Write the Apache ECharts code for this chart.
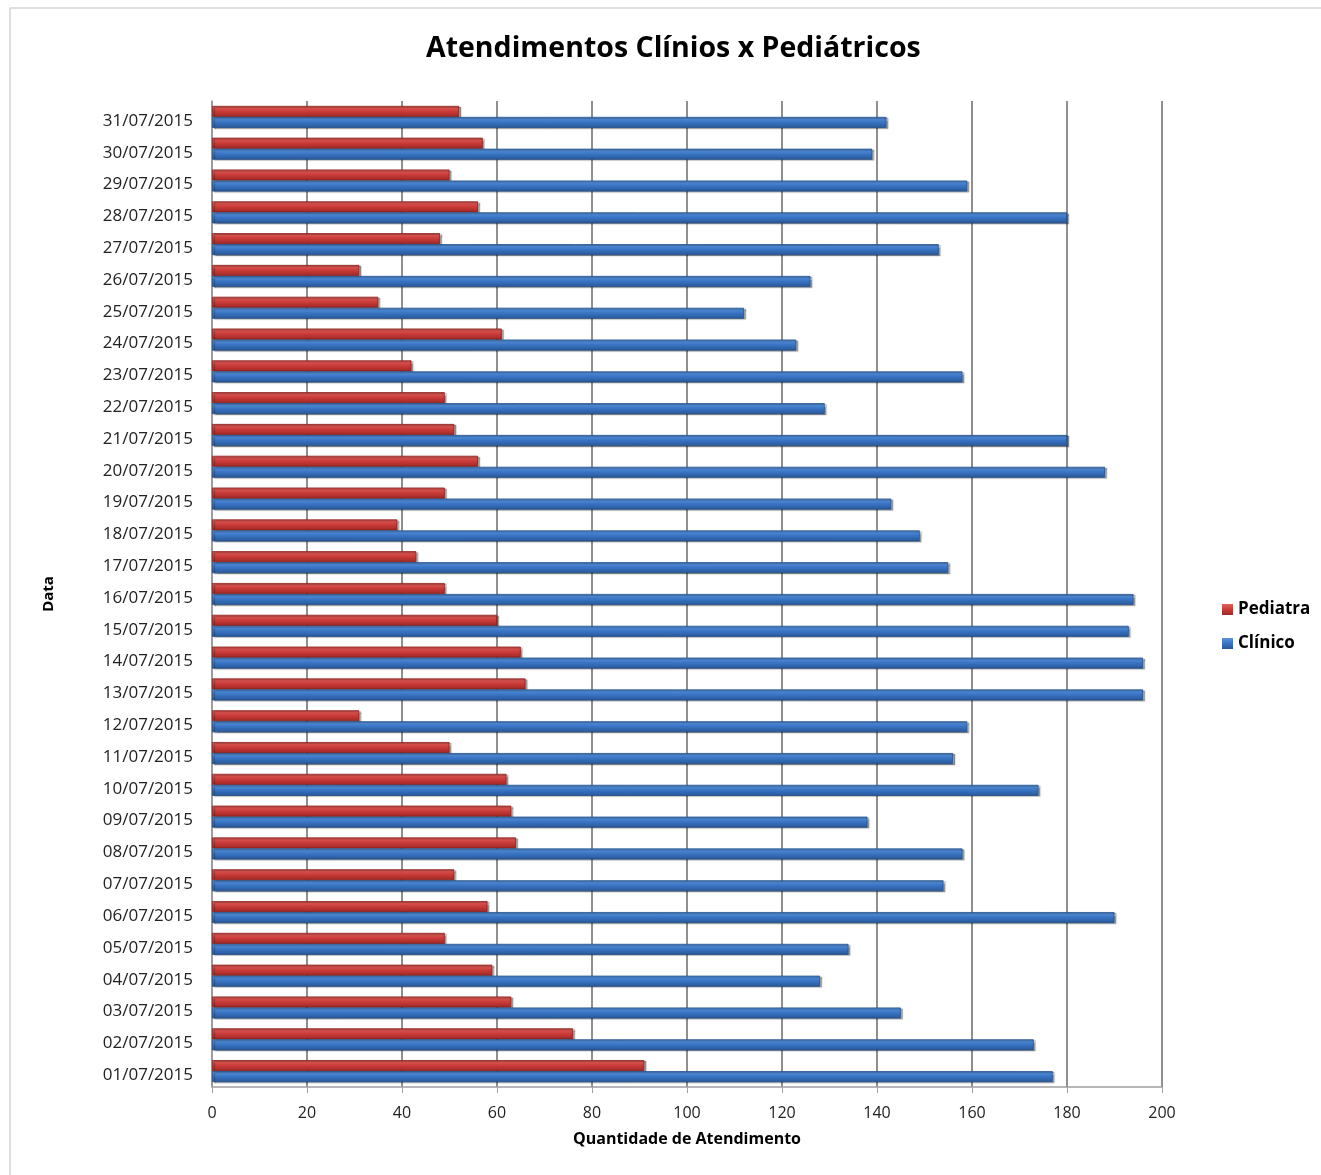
<!DOCTYPE html>
<html>
<head>
<meta charset="utf-8">
<script src="https://cdn.jsdelivr.net/npm/echarts@6/dist/echarts.min.js"></script>
<style>
html,body{margin:0;padding:0;background:#fff;}
#chart{width:1321px;height:1175px;}
</style>
</head>
<body>
<div id="chart"></div>
<script>
// Categories (bottom to top)
const dates = [
  "01/07/2015","02/07/2015","03/07/2015","04/07/2015","05/07/2015","06/07/2015","07/07/2015","08/07/2015",
  "09/07/2015","10/07/2015","11/07/2015","12/07/2015","13/07/2015","14/07/2015","15/07/2015","16/07/2015",
  "17/07/2015","18/07/2015","19/07/2015","20/07/2015","21/07/2015","22/07/2015","23/07/2015","24/07/2015",
  "25/07/2015","26/07/2015","27/07/2015","28/07/2015","29/07/2015","30/07/2015","31/07/2015"
];
const pediatra = [91,76,63,59,49,58,51,64,63,62,50,31,66,65,60,49,43,39,49,56,51,49,42,61,35,31,48,56,50,57,52];
const clinico  = [177,173,145,128,134,190,154,158,138,174,156,159,196,196,193,194,155,149,143,188,180,129,158,123,112,126,153,180,159,139,142];
const xTicks = [0,20,40,60,80,100,120,140,160,180,200];

const FONT = '"Open Sans", "Noto Sans", sans-serif';
const chart = echarts.init(document.getElementById('chart'), null, {renderer:'canvas'});

const redGrad = new echarts.graphic.LinearGradient(0,0,0,1,[
  {offset:0,color:'#e0605c'},{offset:0.5,color:'#c93b38'},{offset:1,color:'#9e2724'}]);
const blueGrad = new echarts.graphic.LinearGradient(0,0,0,1,[
  {offset:0,color:'#5b95dc'},{offset:0.5,color:'#3873c3'},{offset:1,color:'#285796'}]);

chart.setOption({
  backgroundColor:'#ffffff',
  animation:false,
  graphic:[{type:'rect',shape:{x:10,y:8,width:1320,height:1180},style:{fill:'none',stroke:'#bfbfbf',lineWidth:1},silent:true}],
  title:{
    text:'Atendimentos Clínios x Pediátricos',
    left:421, top:29,
    textStyle:{fontFamily:FONT,fontSize:28.5,fontWeight:'bold',color:'#000'}
  },
  legend:{
    data:['Pediatra','Clínico'],
    orient:'vertical', left:1217, top:596,
    itemWidth:11, itemHeight:11, itemGap:17,
    icon:'rect',
    itemStyle:{borderWidth:0},
    textStyle:{fontFamily:FONT,fontSize:17,fontWeight:'bold',color:'#000'}
  },
  grid:{left:212,right:159,top:101,bottom:88,containLabel:false},
  xAxis:{
    type:'value', min:0, max:200, interval:20,
    name:'Quantidade de Atendimento', nameLocation:'middle', nameGap:44,
    nameTextStyle:{fontFamily:FONT,fontSize:16,fontWeight:'bold',color:'#000'},
    axisLine:{show:true,lineStyle:{color:'#a0a0a0',width:1.5}},
    axisTick:{show:true,length:6,lineStyle:{color:'#a0a0a0'}},
    axisLabel:{fontFamily:FONT,fontSize:16,color:'#222',margin:18,
      formatter:function(v){return xTicks.indexOf(v)>=0?String(v):'';}},
    splitLine:{show:true,lineStyle:{color:'#8f8f8f',width:2}}
  },
  yAxis:{
    type:'category', data:dates,
    name:'Data', nameLocation:'middle', nameGap:156, nameRotate:90,
    nameTextStyle:{fontFamily:FONT,fontSize:15,fontWeight:'bold',color:'#000'},
    axisLine:{show:true,lineStyle:{color:'#a0a0a0',width:1.5}},
    axisTick:{show:false},
    axisLabel:{fontFamily:FONT,fontSize:17,color:'#222',margin:19,verticalAlign:'top',lineHeight:8},
    splitLine:{show:false}
  },
  series:[
    {name:'Pediatra',type:'bar',data:pediatra,barWidth:11,barGap:'0%',
      itemStyle:{color:redGrad,borderColor:'#8a1f1c',borderWidth:0.8,
        shadowColor:'rgba(0,0,0,0.35)',shadowOffsetX:2,shadowOffsetY:1,shadowBlur:1}},
    {name:'Clínico',type:'bar',data:clinico,barWidth:11,barGap:'0%',
      itemStyle:{color:blueGrad,borderColor:'#23508c',borderWidth:0.8,
        shadowColor:'rgba(0,0,0,0.35)',shadowOffsetX:2,shadowOffsetY:1,shadowBlur:1}}
  ]
});
</script>
</body>
</html>
